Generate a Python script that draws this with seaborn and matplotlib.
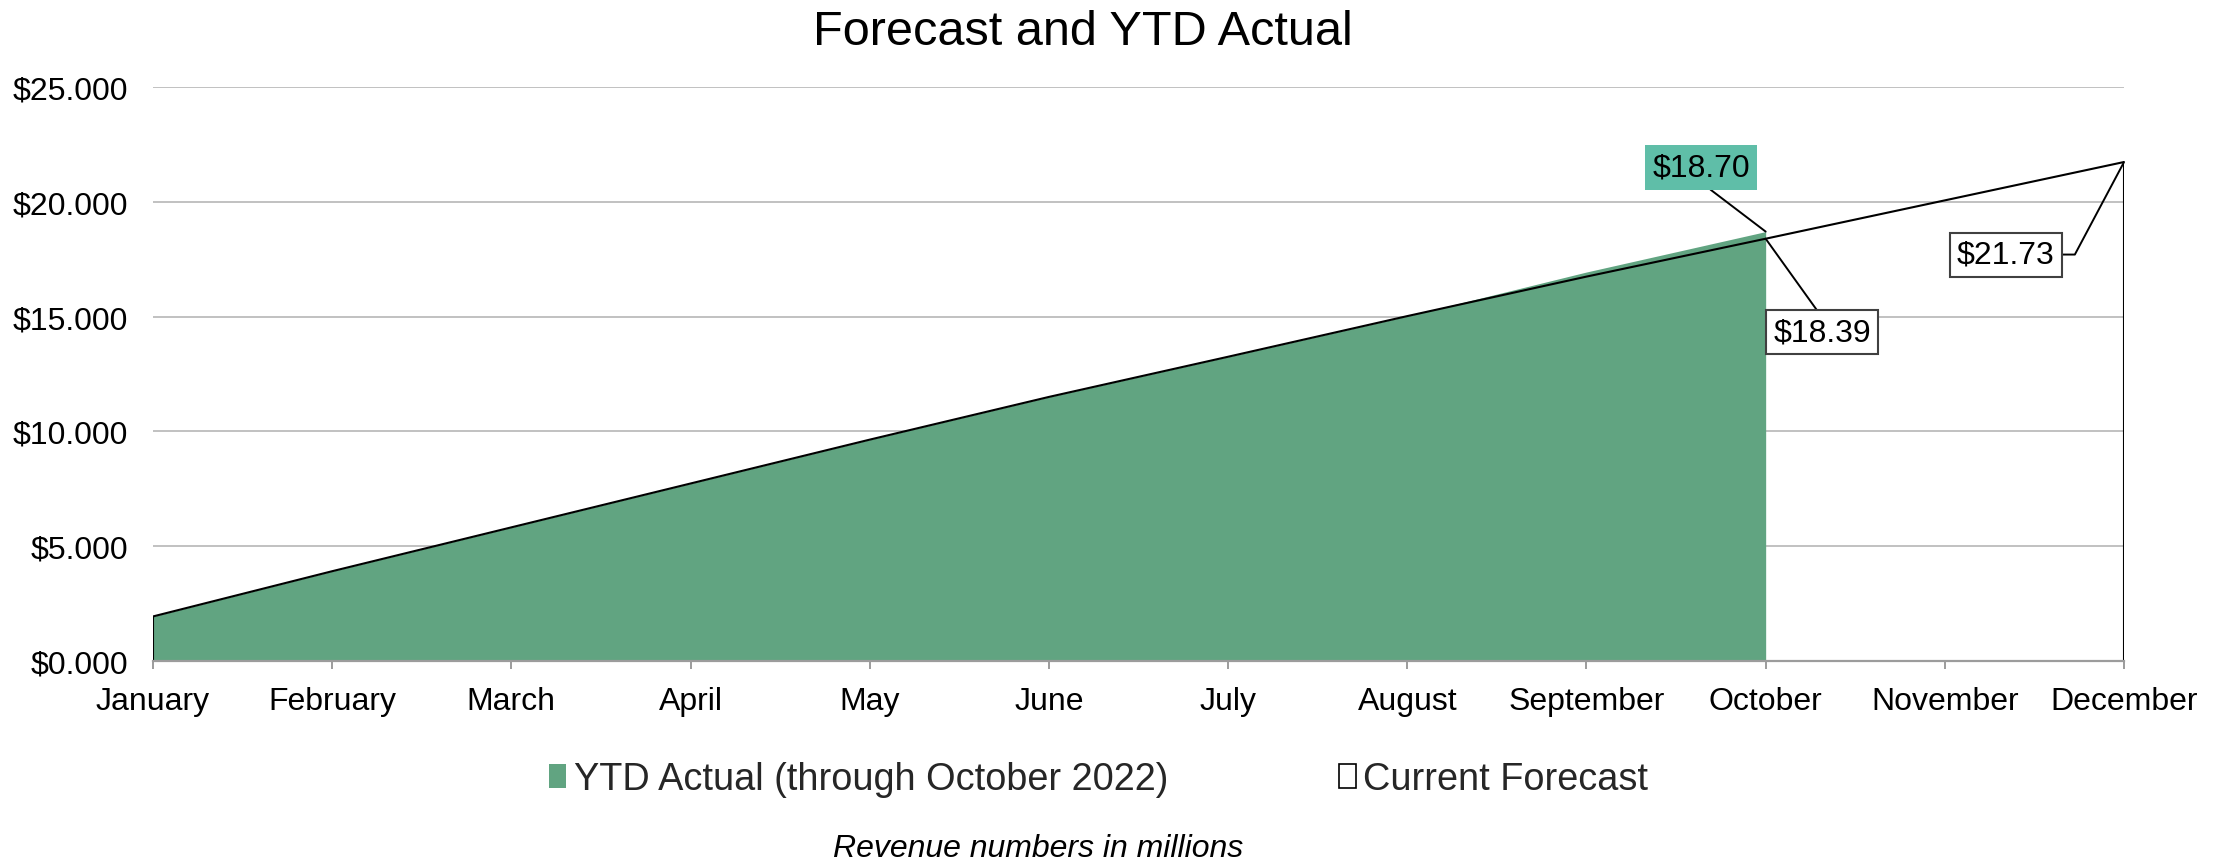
import numpy as np
import matplotlib
matplotlib.use("Agg")
import matplotlib.pyplot as plt
import seaborn as sns
from matplotlib.patches import Patch
from matplotlib.ticker import FuncFormatter

# Monthly revenue (millions)
months = ["January", "February", "March", "April", "May", "June",
          "July", "August", "September", "October", "November", "December"]
forecast = [1.94, 3.91, 5.82, 7.73, 9.64, 11.50, 13.25, 15.02, 16.74, 18.39, 20.06, 21.73]
actual = [1.94, 3.91, 5.82, 7.73, 9.64, 11.50, 13.25, 15.02, 16.94, 18.70]

series_names = ["YTD Actual (through October 2022)", "Current Forecast"]

GREEN = "#61A481"
TEAL = "#5FBEA8"
GRID = "#B0B0B0"
AXIS = "#9C9C9C"

sns.set_theme(style="white")
plt.rcParams["font.family"] = ["Liberation Sans", "DejaVu Sans"]

fig = plt.figure(figsize=(22.26, 8.62), dpi=100)
ax = fig.add_axes([0.0687, 0.232, 0.8855, 0.666])

x_f = np.arange(len(forecast))
x_a = np.arange(len(actual))

# YTD actual as a filled area
ax.fill_between(x_a, actual, color=GREEN, lw=0, zorder=1)

# Forecast as an unfilled area outline
sns.lineplot(x=x_f, y=forecast, ax=ax, color="black", lw=1.5, zorder=2)
ax.vlines([x_f[0], x_f[-1]], 0, [forecast[0], forecast[-1]],
          color="black", lw=1.5, zorder=2)

ax.set_xlim(0, len(months) - 1)
ax.set_ylim(0, 25)
ax.set_xticks(x_f)
ax.set_xticklabels(months)
ax.set_yticks(np.arange(0, 26, 5))
ax.yaxis.set_major_formatter(FuncFormatter(lambda v, p: f"${v:.3f}"))

ax.yaxis.grid(True, color=GRID, lw=1.1)
ax.xaxis.grid(False)
ax.set_axisbelow(True)
for side in ["left", "top", "right"]:
    ax.spines[side].set_visible(False)
ax.spines["bottom"].set_color(AXIS)
ax.spines["bottom"].set_linewidth(1.6)
ax.spines["bottom"].set_zorder(3)

ax.tick_params(axis="x", bottom=True, length=6, width=1.4, color=AXIS,
               labelsize=23, pad=12, labelcolor="black")
ax.tick_params(axis="y", left=False, length=0, labelsize=23, pad=18,
               labelcolor="black")
ax.set_xlabel("")
ax.set_ylabel("")

# Data labels with leader lines
ax.annotate(f"${actual[-1]:.2f}", xy=(x_a[-1], actual[-1]), xytext=(8.64, 21.49),
            ha="center", va="center", fontsize=23, color="black",
            bbox=dict(boxstyle="square,pad=0.22", fc=TEAL, ec="none"),
            arrowprops=dict(arrowstyle="-", color="black", lw=1.4,
                            shrinkA=0, shrinkB=0, relpos=(0.5, 0)))
ax.annotate(f"${forecast[9]:.2f}", xy=(x_f[9], forecast[9]), xytext=(9.315, 14.31),
            ha="center", va="center", fontsize=23, color="black",
            bbox=dict(boxstyle="square,pad=0.22", fc="white", ec="#404040", lw=1.5),
            arrowprops=dict(arrowstyle="-", color="black", lw=1.4,
                            shrinkA=0, shrinkB=0, relpos=(0.5, 1)))
ax.annotate(f"${forecast[-1]:.2f}", xy=(x_f[-1], forecast[-1]), xytext=(10.34, 17.70),
            ha="center", va="center", fontsize=23, color="black",
            bbox=dict(boxstyle="square,pad=0.22", fc="white", ec="#404040", lw=1.5),
            arrowprops=dict(arrowstyle="-", color="black", lw=1.4,
                            shrinkA=0, shrinkB=0, relpos=(1, 0.5),
                            connectionstyle="angle,angleA=0,angleB=62,rad=0"))

fig.text(0.4865, 0.9625, "Forecast and YTD Actual", ha="center", va="center",
         fontsize=35, color="black")

handles = [Patch(facecolor=GREEN, edgecolor="none"),
           Patch(facecolor="white", edgecolor="black", lw=1.2)]
fig.legend(handles, series_names, loc="center", bbox_to_anchor=(0.4935, 0.095),
           ncol=2, frameon=False, fontsize=27.3, handlelength=0.45, handleheight=0.6,
           handletextpad=0.2, columnspacing=4.5)

fig.text(0.4662, 0.015, "Revenue numbers in millions", ha="center", va="center",
         fontsize=23, style="italic", color="black")

fig.savefig("out.png", dpi=100, facecolor="white")
